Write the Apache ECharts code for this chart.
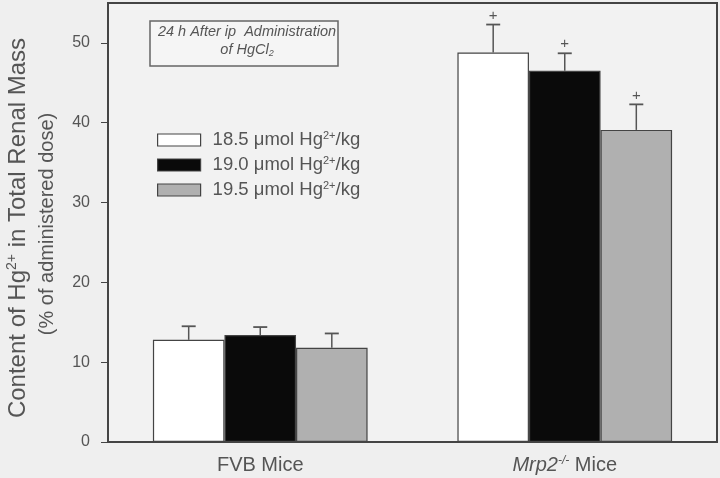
<!DOCTYPE html>
<html><head><meta charset="utf-8">
<script src="https://cdn.jsdelivr.net/npm/echarts@6/dist/echarts.min.js"></script>
<style>html,body{margin:0;padding:0;background:#efefef;}#c{width:720px;height:478px;}</style>
</head><body><div id="c"></div>
<script>
const categories = ['FVB Mice', 'Mrp2-/- Mice'];
const seriesNames = ['18.5 μmol Hg2+/kg', '19.0 μmol Hg2+/kg', '19.5 μmol Hg2+/kg'];
const means185 = [12.8, 48.8];
const errs185 = [1.7, 3.5];
const means190 = [13.4, 46.5];
const errs190 = [1.0, 2.2];
const means195 = [11.8, 39.1];
const errs195 = [1.8, 3.2];
const signif = ['', '+'];
const yTicks = [0, 10, 20, 30, 40, 50];

const means = [means185, means190, means195];
const errs = [errs185, errs190, errs195];
const colors = ['#ffffff', '#0a0a0a', '#b0b0b0'];
const GAP = 0.295;
const textColor = '#555';

const chart = echarts.init(document.getElementById('c'));
const barSeries = means.map((m, i) => ({
  name: seriesNames[i], type: 'bar', data: m,
  barGap: '0%', barCategoryGap: (GAP * 100) + '%',
  itemStyle: { color: colors[i], borderColor: '#444', borderWidth: 1.2 },
  z: 2
}));
const errSeries = means.map((m, i) => ({
  type: 'custom', name: 'err' + i,
  data: m.map((v, j) => [j, v, errs[i][j], signif[j]]),
  z: 3,
  renderItem: function (params, api) {
    const band = api.size([1, 0])[0];
    const bw = band * (1 - GAP) / 3;
    const c = api.coord([api.value(0), api.value(1)]);
    const t = api.coord([api.value(0), api.value(1) + api.value(2)]);
    const x = c[0] + (i - 1) * bw;
    const children = [
      { type: 'line', shape: { x1: x, y1: c[1], x2: x, y2: t[1] }, style: { stroke: '#555', lineWidth: 1.5 } },
      { type: 'line', shape: { x1: x - 7, y1: t[1], x2: x + 7, y2: t[1] }, style: { stroke: '#555', lineWidth: 1.8 } }
    ];
    const s = signif[api.value(0)];
    if (s) children.push({ type: 'text', x: x, y: t[1] - 9, style: { text: s, fill: '#555', font: '15px Liberation Sans', align: 'center', verticalAlign: 'middle' } });
    return { type: 'group', children: children };
  }
}));

chart.setOption({
  backgroundColor: '#efefef',
  animation: false,
  grid: { left: 108, right: 3, top: 3, bottom: 36, show: true, backgroundColor: '#f2f2f2', borderColor: '#444', borderWidth: 2 },
  legend: {
    data: seriesNames, orient: 'vertical', left: 157, top: 130, padding: 0,
    itemWidth: 43, itemHeight: 12, itemGap: 5.5,
    icon: 'rect',
    formatter: function (n) {
      const p = n.split('Hg2+');
      return '{a|' + p[0] + 'Hg}{s|2+}{a|' + p[1] + '}';
    },
    textStyle: {
      color: textColor, fontFamily: 'Liberation Sans',
      rich: {
        a: { fontSize: 18.5, lineHeight: 20, color: textColor, fontFamily: 'Liberation Sans' },
        s: { fontSize: 11, lineHeight: 20, color: textColor, fontFamily: 'Liberation Sans', verticalAlign: 'top', padding: [0, 0, 8, 0] }
      },
      padding: [0, 0, 0, 7]
    },
    itemStyle: { borderColor: '#444', borderWidth: 1.2 }
  },
  xAxis: {
    type: 'category', data: categories,
    axisLine: { lineStyle: { color: '#444', width: 2 } },
    axisTick: { alignWithLabel: true, length: 6, lineStyle: { color: '#444' } },
    axisLabel: {
      margin: 13, color: textColor, fontFamily: 'Liberation Sans', fontSize: 20,
      formatter: function (v) {
        if (v.indexOf('Mrp2') === 0) return '{i|Mrp2}{s|-/-}{a| Mice}';
        return '{a|' + v + '}';
      },
      rich: {
        a: { fontSize: 20, color: textColor, fontFamily: 'Liberation Sans' },
        i: { fontSize: 20, color: textColor, fontFamily: 'Liberation Sans', fontStyle: 'italic' },
        s: { fontSize: 12, color: textColor, fontFamily: 'Liberation Sans', fontStyle: 'italic', verticalAlign: 'top', padding: [0, 0, 9, 0] }
      }
    }
  },
  yAxis: {
    type: 'value', min: 0, max: 55, interval: 10,
    splitLine: { show: false },
    axisLine: { show: true, lineStyle: { color: '#444', width: 2 } },
    axisTick: { show: true, length: 7, customValues: yTicks, lineStyle: { color: '#444' } },
    axisLabel: {
      color: textColor, fontFamily: 'Liberation Sans', fontSize: 16, margin: 18,
      customValues: yTicks
    }
  },
  graphic: [
    { type: 'rect', shape: { x: 150, y: 21, width: 188, height: 45 }, style: { fill: '#f5f5f5', stroke: '#666', lineWidth: 1.5 }, z: 10 },
    { type: 'text', x: 247, y: 32, style: { text: '24 h After ip  Administration', fill: textColor, font: 'italic 14.5px Liberation Sans', align: 'center', verticalAlign: 'middle' }, z: 11 },
    { type: 'text', x: 247, y: 50, style: { text: '{a|of HgCl}{s|2}', align: 'center', verticalAlign: 'middle', rich: { a: { fontSize: 14.5, fontStyle: 'italic', fill: textColor, fontFamily: 'Liberation Sans' }, s: { fontSize: 9, fontStyle: 'italic', fill: textColor, fontFamily: 'Liberation Sans', verticalAlign: 'bottom', padding: [7, 0, 0, 0] } } }, z: 11 },
    { type: 'text', x: 18, y: 228, rotation: Math.PI / 2, style: { text: '{a|Content of Hg}{s|2+}{a| in Total Renal Mass}', align: 'center', verticalAlign: 'middle', rich: { a: { fontSize: 24, fill: textColor, fontFamily: 'Liberation Sans' }, s: { fontSize: 14, fill: textColor, fontFamily: 'Liberation Sans', verticalAlign: 'top', padding: [0, 0, 11, 0] } } } },
    { type: 'text', x: 47, y: 224, rotation: Math.PI / 2, style: { text: '(% of administered dose)', fill: textColor, font: '20px Liberation Sans', align: 'center', verticalAlign: 'middle' } }
  ],
  series: barSeries.concat(errSeries)
});
</script></body></html>
